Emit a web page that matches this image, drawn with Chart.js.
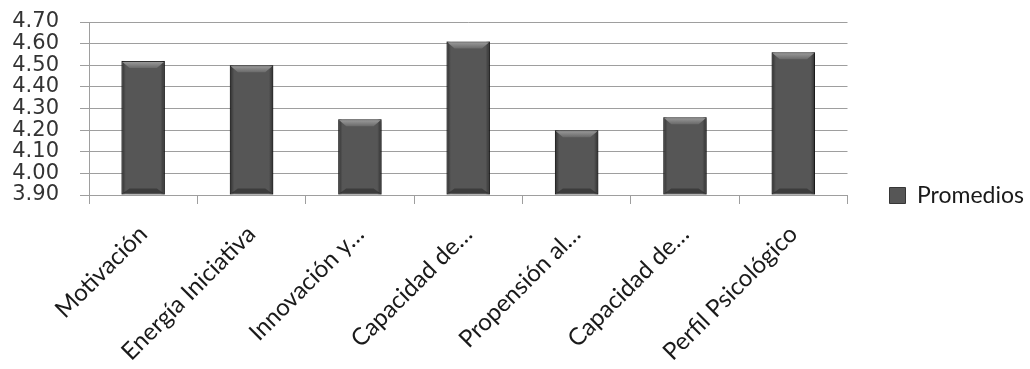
<!DOCTYPE html>
<html>
<head>
<meta charset="utf-8">
<script src="https://cdn.jsdelivr.net/npm/chart.js@4"></script>
<style>
  body { margin: 0; background: #fff; }
</style>
</head>
<body>
<canvas id="myChart" width="1030" height="369"></canvas>
<script>
const categories = ['Motivación', 'Energía Iniciativa', 'Innovación y…', 'Capacidad de…', 'Propensión al…', 'Capacidad de…', 'Perfil Psicológico']
const promedios = [4.52, 4.50, 4.25, 4.61, 4.20, 4.26, 4.56]
const yMin = 3.90
const yMax = 4.70
const yStep = 0.10

const gridGray = '#9e9e9e'

// soft shadow behind the bars
const barShadow = {
    id: 'barShadow',
    beforeDatasetsDraw(chart) {
        const ctx = chart.ctx
        ctx.save()
        ctx.shadowColor = 'rgba(0,0,0,0.35)'
        ctx.shadowBlur = 5
        ctx.shadowOffsetX = 2
        ctx.shadowOffsetY = 1
    },
    afterDatasetsDraw(chart) {
        chart.ctx.restore()
    }
}

// bevelled look: darker sides, light top chamfer, dark bottom chamfer
const barBevel = {
    id: 'barBevel',
    afterDatasetsDraw(chart) {
        const ctx = chart.ctx
        chart.getDatasetMeta(0).data.forEach(bar => {
            const left = bar.x - bar.width / 2
            const right = bar.x + bar.width / 2
            const top = bar.y
            const bottom = bar.base
            const b = 7
            ctx.save()
            let g = ctx.createLinearGradient(left, 0, right, 0)
            g.addColorStop(0, 'rgba(0,0,0,0.45)')
            g.addColorStop(0.1, 'rgba(0,0,0,0)')
            g.addColorStop(0.9, 'rgba(0,0,0,0)')
            g.addColorStop(1, 'rgba(0,0,0,0.45)')
            ctx.fillStyle = g
            ctx.fillRect(left, top, right - left, bottom - top)

            g = ctx.createLinearGradient(0, top, 0, top + b)
            g.addColorStop(0, '#a0a0a0')
            g.addColorStop(1, '#6a6a6a')
            ctx.fillStyle = g
            ctx.beginPath()
            ctx.moveTo(left + 1, top + 1)
            ctx.lineTo(right - 1, top + 1)
            ctx.lineTo(right - b - 1, top + b)
            ctx.lineTo(left + b + 1, top + b)
            ctx.closePath()
            ctx.fill()

            ctx.fillStyle = 'rgba(0,0,0,0.3)'
            ctx.beginPath()
            ctx.moveTo(left + 1, bottom - 1)
            ctx.lineTo(right - 1, bottom - 1)
            ctx.lineTo(right - b - 1, bottom - b + 1)
            ctx.lineTo(left + b + 1, bottom - b + 1)
            ctx.closePath()
            ctx.fill()
            ctx.restore()
        })
    }
}

let myChart = document.getElementById('myChart').getContext('2d')
let promChart = new Chart(myChart, {
    type: 'bar',
    data: {
        labels: categories,
        datasets: [{
            label: 'Promedios',
            data: promedios,
            base: yMin,
            backgroundColor: '#565656',
            borderColor: '#363636',
            borderWidth: 1,
            borderSkipped: false,
            barPercentage: 0.4,
            categoryPercentage: 1
        }]
    },
    options: {
        responsive: false,
        animation: false,
        layout: {
            padding: { top: 22, left: 0, right: -4, bottom: 0 }
        },
        plugins: {
            legend: {
                position: 'right',
                labels: {
                    color: '#1a1a1a',
                    boxWidth: 16,
                    boxHeight: 16,
                    padding: 42,
                    font: { family: 'Lato', size: 23 }
                }
            },
            tooltip: { enabled: false }
        },
        scales: {
            x: {
                afterFit: s => { s.height = 174 },
                grid: {
                    drawOnChartArea: false,
                    drawTicks: true,
                    tickLength: 9,
                    color: gridGray
                },
                border: { color: gridGray },
                ticks: {
                    autoSkip: false,
                    maxRotation: 45,
                    minRotation: 45,
                    padding: 16,
                    color: '#1a1a1a',
                    font: { family: 'Lato', size: 24 }
                }
            },
            y: {
                min: yMin,
                max: yMax,
                // fixed axis width, and no extra room above the top tick
                afterFit: s => { s.width = 89; s.paddingTop = 0 },
                grid: {
                    color: gridGray,
                    tickLength: 9
                },
                border: { color: gridGray },
                ticks: {
                    autoSkip: false,
                    stepSize: yStep,
                    padding: 21,
                    color: '#333333',
                    font: { family: 'DejaVu Sans', size: 21 },
                    callback: v => v.toFixed(2)
                }
            }
        }
    },
    plugins: [barShadow, barBevel]
})
</script>
</body>
</html>
